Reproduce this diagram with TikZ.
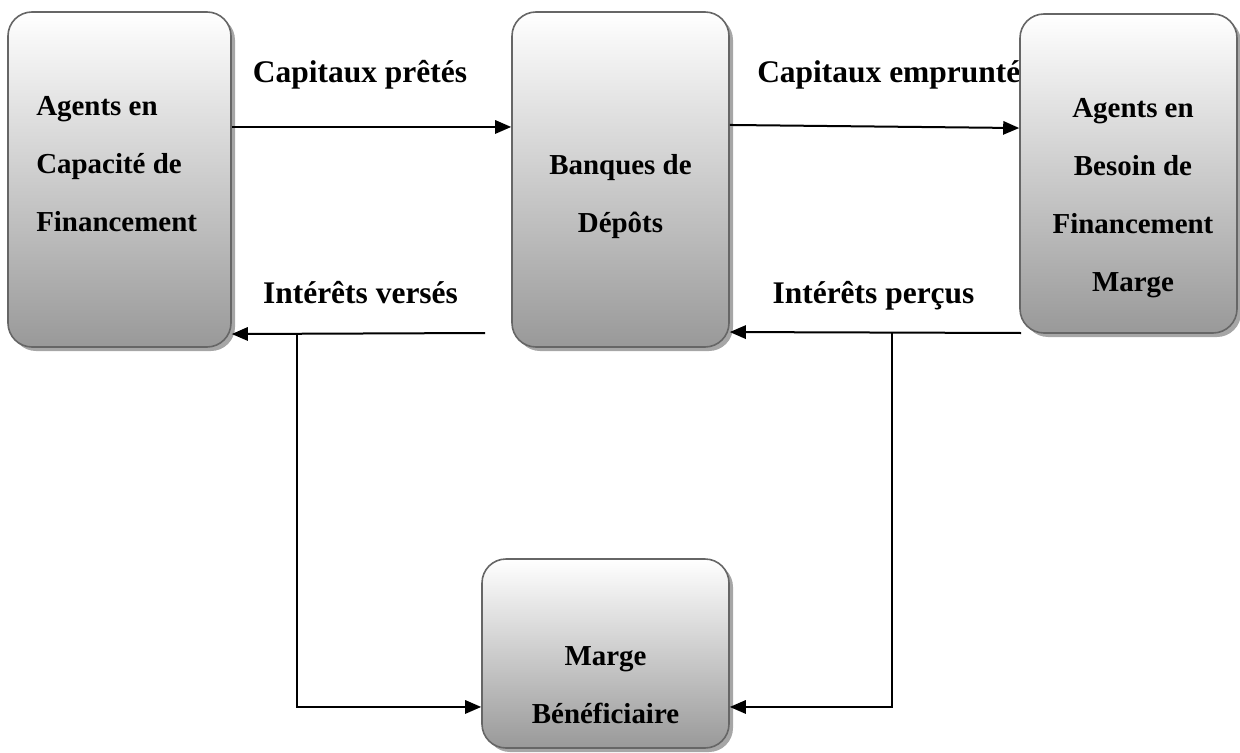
\documentclass[tikz,border=0pt]{standalone}
\usepackage{fontspec}
\setmainfont{Liberation Serif}
\usetikzlibrary{shadows,arrows.meta}
\begin{document}
\begin{tikzpicture}[x=0.75pt,y=-0.75pt,
  box/.style={draw=black!60, line width=1.2pt, rounded corners=18pt,
    top color=white, bottom color=black!40,
    drop shadow={shadow xshift=3pt, shadow yshift=-3pt, fill=black!35, opacity=1},
    inner sep=0pt},
  txt/.style={font=\bfseries\fontsize{21.7}{43.5}\selectfont, inner sep=0pt},
  lbl/.style={font=\bfseries\fontsize{23.6}{28}\selectfont, inner sep=0pt, anchor=base},
  arr/.style={line width=1.5pt, -{Triangle[length=12pt,width=10pt]}}]
\useasboundingbox (0,0) rectangle (1240,753);
\node[lbl, anchor=base west] (l2) at (757,82) {Capitaux emprunté};
\node[box, minimum width=167.25pt, minimum height=251.25pt] (A) at (119.5,179.5) {};
\node[box, minimum width=162.75pt, minimum height=251.25pt] (B) at (620.5,179.5) {};
\node[box, minimum width=162.75pt, minimum height=239.25pt] (C) at (1128.5,173.5) {};
\node[box, minimum width=185.25pt, minimum height=141.75pt] (D) at (605.5,653.5) {};
\node[txt, align=left, anchor=west] (tA) at (36,164) {Agents en\\Capacité de\\Financement};
\node[txt, align=center] (tB) at (620.5,197) {Banques de\\Dépôts};
\node[txt, align=center] (tC) at (1133,198) {Agents en\\Besoin de\\Financement\\Marge};
\node[txt, align=center] (tD) at (605.5,685) {Marge\\Bénéficiaire};
\node[lbl] (l1) at (360,82) {Capitaux prêtés};
\node[lbl] (l3) at (360.5,303) {Intérêts versés};
\node[lbl] (l4) at (873.5,303) {Intérêts perçus};
% top arrows
\draw[arr] ([yshift=39.4pt]A.east) -- ([yshift=39.4pt]B.west);
\draw[arr] ([yshift=40.9pt]B.east) -- ([yshift=34.1pt]C.west);
% bottom arrows
\coordinate (s1) at (485,333);
\coordinate (s2) at (1021,333);
\coordinate (j1) at (297,334);
\coordinate (j2) at (892,332);
\draw[arr] (s1) -- ([yshift=-115.9pt]A.east);
\draw[arr] (s2) -- ([yshift=-114.4pt]B.east);
\draw[arr] (j1) |- ([yshift=-40.1pt]D.west);
\draw[arr] (j2) |- ([yshift=-40.1pt]D.east);
\end{tikzpicture}
\end{document}
